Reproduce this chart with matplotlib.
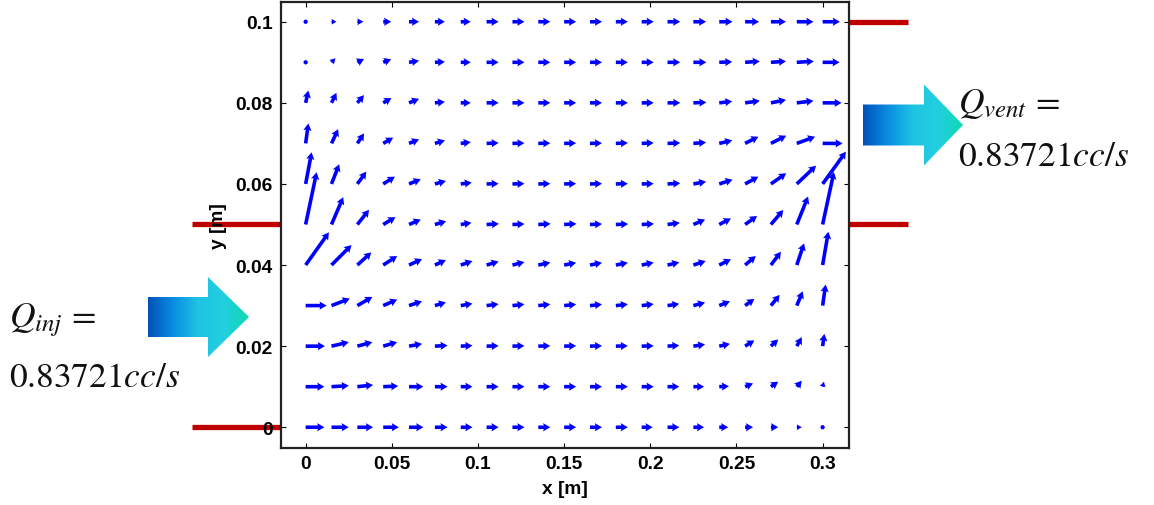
import numpy as np
import matplotlib
matplotlib.use('Agg')
import matplotlib.pyplot as plt
from matplotlib.patches import Polygon
from matplotlib.colors import LinearSegmentedColormap
from matplotlib.transforms import blended_transform_factory

plt.rcParams['mathtext.fontset'] = 'stix'

# grid of the velocity field (m)
x = np.round(np.arange(21) * 0.015, 4)
y = np.round(np.arange(11) * 0.01, 3)

# velocity components, rows from y = 0 up to y = 0.1
u0 = [10.85, 10.03, 9.11, 9.11, 8.29, 7.37, 6.79, 6.96, 6.96, 6.96, 6.96, 6.96, 6.96, 6.38, 6.79, 6.21, 5.22, 4.64, 4.23, 2.90, 1.16]
v0 = [0.0] * 21
u1 = [10.85, 10.03, 9.11, 8.70, 8.29, 7.37, 6.79, 6.96, 6.96, 6.96, 6.96, 6.96, 6.96, 6.96, 6.79, 6.21, 5.63, 4.64, 4.23, 2.90, 0.75]
v1 = [0.0, 0.25, 0.42, 0.17, 0.0, 0.0, 0.0, 0.0, 0.0, 0.0, 0.0, 0.0, 0.0, 0.0, 0.0, 0.0, 0.12, 0.81, 1.23, 1.48, 1.23]
u2 = [11.19, 10.03, 8.70, 8.12, 7.54, 7.37, 6.79, 6.96, 6.96, 6.96, 6.96, 6.96, 6.96, 6.96, 6.79, 6.79, 6.21, 5.39, 4.23, 2.90, 0.99]
v2 = [0.0, 0.99, 0.99, 0.99, 0.57, 0.17, 0.12, 0.07, 0.07, 0.07, 0.07, 0.07, 0.07, 0.07, 0.17, 0.42, 0.57, 1.41, 1.65, 2.22, 3.03]
u3 = [12.18, 10.61, 8.70, 8.12, 7.54, 6.38, 6.79, 6.96, 6.96, 6.96, 6.96, 6.96, 6.96, 6.96, 6.79, 6.79, 6.21, 5.39, 5.05, 3.48, 1.74]
v3 = [0.0, 1.73, 2.14, 1.48, 1.06, 0.81, 0.49, 0.37, 0.32, 0.32, 0.30, 0.30, 0.32, 0.37, 0.42, 0.74, 1.06, 1.65, 2.64, 3.52, 5.18]
u4 = [13.51, 11.60, 8.12, 8.12, 7.54, 6.38, 6.79, 6.96, 6.96, 6.96, 6.96, 6.96, 6.96, 6.96, 6.79, 7.13, 6.79, 6.21, 5.80, 4.23, 3.31]
v4 = [8.06, 4.93, 3.13, 2.22, 1.48, 1.23, 0.99, 0.86, 0.74, 0.62, 0.57, 0.57, 0.57, 0.62, 0.67, 0.99, 1.41, 2.22, 3.28, 5.35, 8.21]
u5 = [6.38, 6.79, 6.79, 7.13, 6.79, 6.55, 6.21, 7.13, 6.96, 7.13, 7.13, 6.96, 7.13, 7.13, 7.13, 6.79, 6.79, 6.96, 7.13, 6.55, 6.55]
v5 = [12.89, 6.73, 3.62, 1.80, 1.23, 0.81, 0.42, 0.17, 0.12, 0.17, 0.17, 0.12, 0.12, 0.17, 0.42, 1.23, 1.48, 2.10, 3.57, 6.90, 12.94]
u6 = [3.48, 4.47, 5.22, 6.79, 6.79, 6.38, 6.38, 6.96, 6.96, 6.96, 6.96, 6.96, 6.96, 6.96, 7.37, 7.37, 7.71, 7.71, 8.87, 11.19, 13.51]
v6 = [7.81, 4.86, 3.03, 1.80, 1.16, 0.74, 0.32, 0.07, 0.07, 0.07, 0.07, 0.07, 0.07, 0.07, 0.17, 0.57, 1.06, 1.80, 2.64, 4.51, 7.96]
u7 = [1.57, 3.89, 3.89, 5.80, 5.80, 5.80, 5.80, 6.96, 6.96, 6.96, 6.96, 6.96, 6.96, 6.96, 7.37, 7.37, 7.54, 7.71, 8.87, 10.61, 11.60]
v7 = [4.93, 3.52, 2.47, 1.41, 0.99, 0.74, 0.32, 0.12, 0.07, 0.07, 0.07, 0.07, 0.12, 0.12, 0.12, 0.25, 0.74, 1.65, 1.90, 1.65, 0.0]
u8 = [1.57, 2.90, 3.89, 4.81, 5.80, 5.80, 5.80, 6.96, 6.96, 6.96, 6.96, 6.96, 6.96, 6.96, 7.37, 7.54, 7.54, 8.53, 8.70, 9.69, 11.02]
v8 = [3.03, 2.47, 1.90, 1.16, 0.99, 0.25, 0.0, 0.0, 0.0, 0.0, 0.0, 0.0, 0.0, 0.0, 0.0, 0.12, 0.37, 0.49, 0.74, 0.49, 0.0]
u9 = [0.29, 2.32, 3.89, 4.64, 5.80, 5.80, 5.80, 6.96, 6.96, 6.96, 6.96, 6.96, 6.96, 6.96, 7.37, 7.54, 7.54, 8.53, 8.70, 9.86, 9.86]
v9 = [0.99, 0.99, 0.81, 0.74, 0.37, 0.12, 0.0, 0.0, 0.0, 0.0, 0.0, 0.0, 0.0, 0.0, 0.0, 0.0, 0.12, 0.25, 0.25, 0.25, 0.0]
u10 = [0.0, 2.90, 3.48, 4.64, 5.80, 5.80, 5.80, 6.96, 6.96, 6.96, 6.96, 6.96, 6.96, 6.96, 7.37, 7.37, 7.71, 8.12, 8.70, 9.69, 10.03]
v10 = [0.0] * 21

U = np.array([u0, u1, u2, u3, u4, u5, u6, u7, u8, u9, u10])
V = np.array([v0, v1, v2, v3, v4, v5, v6, v7, v8, v9, v10])

xticks = [0, 0.05, 0.1, 0.15, 0.2, 0.25, 0.3]
xticklabels = ['0', '0.05', '0.1', '0.15', '0.2', '0.25', '0.3']
yticks = [0, 0.02, 0.04, 0.06, 0.08, 0.1]
yticklabels = ['0', '0.02', '0.04', '0.06', '0.08', '0.1']

inlet_y = (0.0, 0.05)
vent_y = (0.05, 0.1)
flow_label = '0.83721$cc/s$'

fig = plt.figure(figsize=(11.54, 5.06), dpi=100)
ax = fig.add_axes([0.2435, 0.112, 0.4925, 0.8815])

X, Y = np.meshgrid(x, y)
ax.quiver(X, Y, U, V, angles='xy', scale_units='xy', scale=1000,
          units='dots', width=3.6, headwidth=2.3, headlength=2.0,
          headaxislength=1.8, minlength=1.3, color='#0000ff', zorder=3)

ax.set_xlim(-0.0143, 0.3155)
ax.set_ylim(-0.0052, 0.1048)
ax.set_xticks(xticks)
ax.set_xticklabels(xticklabels)
ax.set_yticks(yticks)
ax.set_yticklabels(yticklabels)

tickfont = dict(family='Liberation Sans', weight='bold', size=13.8)
for lab in ax.get_xticklabels() + ax.get_yticklabels():
    lab.set_fontproperties(matplotlib.font_manager.FontProperties(**tickfont))
ax.tick_params(direction='in', length=3.6, width=0.8, top=True, right=True)
ax.tick_params(axis='x', pad=5)
ax.tick_params(axis='y', pad=6)
for sp in ax.spines.values():
    sp.set_linewidth(1.6)
    sp.set_color('#222222')

ax.set_xlabel('x [m]', fontdict=tickfont)
ax.set_ylabel('y [m]', fontdict=tickfont)
ax.xaxis.set_label_coords(0.5, -0.071)
ax.yaxis.set_label_coords(-0.095, 0.5)

# inlet and vent boundaries
trans = blended_transform_factory(ax.transAxes, ax.transData)
red = '#c00000'
for yy in inlet_y:
    ax.plot([-0.1566, 0.0], [yy, yy], transform=trans, color=red, lw=3.8,
            clip_on=False, solid_capstyle='butt', zorder=1)
for yy in vent_y:
    ax.plot([1.0, 1.103], [yy, yy], transform=trans, color=red, lw=3.8,
            clip_on=False, solid_capstyle='butt', zorder=1)

# overlay in pixel coordinates for the block arrows and flow rates
ov = fig.add_axes([0, 0, 1, 1])
ov.axis('off')

grad_cmap = LinearSegmentedColormap.from_list(
    'flow', ['#0052b8', '#0a8de2', '#1ec4e2', '#22cfe0', '#10d8b2'])


def block_arrow(x0, xn, xt, yc, hb, hh):
    verts = [(x0, yc - hb), (xn, yc - hb), (xn, yc - hh), (xt, yc),
             (xn, yc + hh), (xn, yc + hb), (x0, yc + hb)]
    poly = Polygon(verts, closed=True, facecolor='none', edgecolor='none')
    ov.add_patch(poly)
    im = ov.imshow(np.linspace(0, 1, 256).reshape(1, -1), cmap=grad_cmap,
                   extent=[x0, xt, yc + hh, yc - hh], aspect='auto',
                   interpolation='bilinear')
    im.set_clip_path(poly)


block_arrow(148, 208, 249, 318, 20, 40)
block_arrow(863, 924, 963, 126, 20.5, 40.5)

ov.set_xlim(0, 1154)
ov.set_ylim(506, 0)

serif = dict(family='STIXGeneral', size=25.5, color='#111111', va='baseline')
ov.text(9, 327, r'$Q_{inj}$ =', **serif)
ov.text(9, 387, flow_label, **serif)
ov.text(958, 113, r'$Q_{vent}$ =', **serif)
ov.text(958, 166, flow_label, **serif)

fig.savefig('out.png', dpi=100)
